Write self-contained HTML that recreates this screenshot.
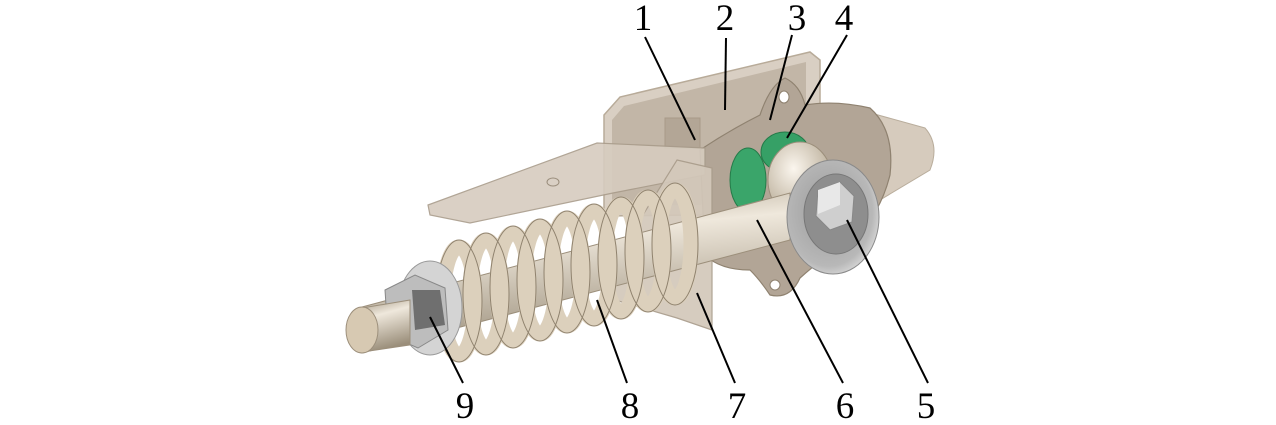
<!DOCTYPE html>
<html><head><meta charset="utf-8"><style>
html,body{margin:0;padding:0;background:#fff;}
svg{display:block;}
text{font-family:"Liberation Serif",serif;font-size:37px;fill:#000;text-anchor:middle;}
</style></head><body>
<svg width="1276" height="425" viewBox="0 0 1276 425" xmlns="http://www.w3.org/2000/svg">
<defs>
<linearGradient id="shaft" x1="0" y1="0" x2="0.25" y2="1">
<stop offset="0" stop-color="#a89c88"/><stop offset="0.35" stop-color="#efe8dc"/><stop offset="1" stop-color="#9a8e7a"/>
</linearGradient>
<radialGradient id="ball" cx="0.4" cy="0.35" r="0.7">
<stop offset="0" stop-color="#fbf6ee"/><stop offset="1" stop-color="#b3a690"/>
</radialGradient>
<radialGradient id="wash" cx="0.45" cy="0.45" r="0.6">
<stop offset="0" stop-color="#9a9a9a"/><stop offset="0.8" stop-color="#b8b8b8"/><stop offset="1" stop-color="#dcdcdc"/>
</radialGradient>
</defs>
<path d="M860,110 L925,128 Q940,145 930,170 L880,200 Z" fill="#d6cbbd" stroke="#b9ad9c"/>
<polygon points="604,115 620,97 810,52 820,60 820,170 700,215 604,216" fill="#d9cfc3" stroke="#b8ab99" stroke-width="1.5"/>
<polygon points="612,120 624,106 806,62 806,165 700,205 612,206" fill="#c2b6a7"/>
<rect x="665" y="118" width="35" height="30" fill="#b3a696" stroke="#a89a88"/>
<path d="M700,150 Q730,130 760,115 Q770,85 785,78 Q800,85 805,105 Q835,100 870,108 Q895,130 890,175 Q880,215 855,235 Q820,260 800,278 Q790,300 770,295 Q760,280 750,270 Q720,270 705,255 Z" fill="#b2a596" stroke="#8f8270" stroke-width="1.2"/>
<ellipse cx="784" cy="97" rx="5" ry="6" fill="#fff" stroke="#8f8270"/>
<ellipse cx="775" cy="285" rx="5" ry="5" fill="#fff" stroke="#8f8270"/>
<polygon points="428,205 597,143 705,148 705,175 613,193 470,223 430,215" fill="#d6ccbf" stroke="#a99c8b" stroke-width="1.2" opacity="0.9"/>
<ellipse cx="553" cy="182" rx="6" ry="4" fill="none" stroke="#9a8d7c"/>
<polygon points="677,160 712,168 712,330 677,318 615,300 615,260" fill="#d3c8ba" stroke="#a99c8b" stroke-width="1.2" opacity="0.92"/>
<ellipse cx="748" cy="180" rx="18" ry="32" fill="#3aa56a" stroke="#247a48"/>
<ellipse cx="785" cy="152" rx="24" ry="20" fill="#36a066" stroke="#247a48"/>
<ellipse cx="760" cy="240" rx="8" ry="6" fill="#3aa56a"/>
<ellipse cx="800" cy="180" rx="32" ry="38" fill="url(#ball)" stroke="#9c8f7b"/>
<polygon points="362,307 790,193 790,240 362,353" fill="url(#shaft)" stroke="#9c8f7b"/>
<ellipse cx="833" cy="217" rx="46" ry="57" fill="url(#wash)" stroke="#8a8a8a"/>
<ellipse cx="836" cy="214" rx="32" ry="40" fill="#8e8e8e" stroke="#777"/>
<polygon points="818,190 840,182 854,196 852,222 830,230 816,216" fill="#cfcfcf" stroke="#888"/>
<polygon points="818,190 840,182 840,205 818,214" fill="#e8e8e8"/>
<g fill="none" stroke-width="15" stroke="#dcd0bc">
<ellipse cx="675" cy="244" rx="16" ry="54"/>
<ellipse cx="648" cy="251" rx="16" ry="54"/>
<ellipse cx="621" cy="258" rx="16" ry="54"/>
<ellipse cx="594" cy="265" rx="16" ry="54"/>
<ellipse cx="567" cy="272" rx="16" ry="54"/>
<ellipse cx="540" cy="280" rx="16" ry="54"/>
<ellipse cx="513" cy="287" rx="16" ry="54"/>
<ellipse cx="486" cy="294" rx="16" ry="54"/>
<ellipse cx="459" cy="301" rx="16" ry="54"/>
</g>
<g fill="none" stroke-width="1" stroke="#8f826e">
<ellipse cx="675" cy="244" rx="23" ry="61"/><ellipse cx="648" cy="251" rx="23" ry="61"/>
<ellipse cx="621" cy="258" rx="23" ry="61"/><ellipse cx="594" cy="265" rx="23" ry="61"/>
<ellipse cx="567" cy="272" rx="23" ry="61"/><ellipse cx="540" cy="280" rx="23" ry="61"/>
<ellipse cx="513" cy="287" rx="23" ry="61"/><ellipse cx="486" cy="294" rx="23" ry="61"/>
<ellipse cx="459" cy="301" rx="23" ry="61"/>
</g>
<ellipse cx="430" cy="308" rx="32" ry="47" fill="#d4d4d4" stroke="#999"/>
<polygon points="385,290 415,275 445,288 448,330 418,348 388,335" fill="#bdbdbd" stroke="#888"/>
<polygon points="412,290 440,290 445,325 415,330" fill="#6f6f6f"/>
<polygon points="362,308 410,300 410,345 362,352" fill="url(#shaft)" stroke="#9c8f7b"/>
<ellipse cx="362" cy="330" rx="16" ry="23" fill="#d7c9b2" stroke="#9c8f7b"/>
<g stroke="#000" stroke-width="2" fill="none">
<line x1="645" y1="37" x2="695" y2="140"/>
<line x1="726" y1="38" x2="725" y2="110"/>
<line x1="792" y1="35" x2="770" y2="120"/>
<line x1="847" y1="35" x2="787" y2="138"/>
<line x1="928" y1="383" x2="847" y2="220"/>
<line x1="843" y1="383" x2="757" y2="220"/>
<line x1="735" y1="383" x2="697" y2="293"/>
<line x1="627" y1="383" x2="597" y2="300"/>
<line x1="463" y1="383" x2="430" y2="317"/>
</g>
<text x="643" y="30">1</text>
<text x="725" y="30">2</text>
<text x="797" y="30">3</text>
<text x="844" y="30">4</text>
<text x="465" y="418">9</text>
<text x="630" y="418">8</text>
<text x="737" y="418">7</text>
<text x="845" y="418">6</text>
<text x="926" y="418">5</text>
</svg>
</body></html>
